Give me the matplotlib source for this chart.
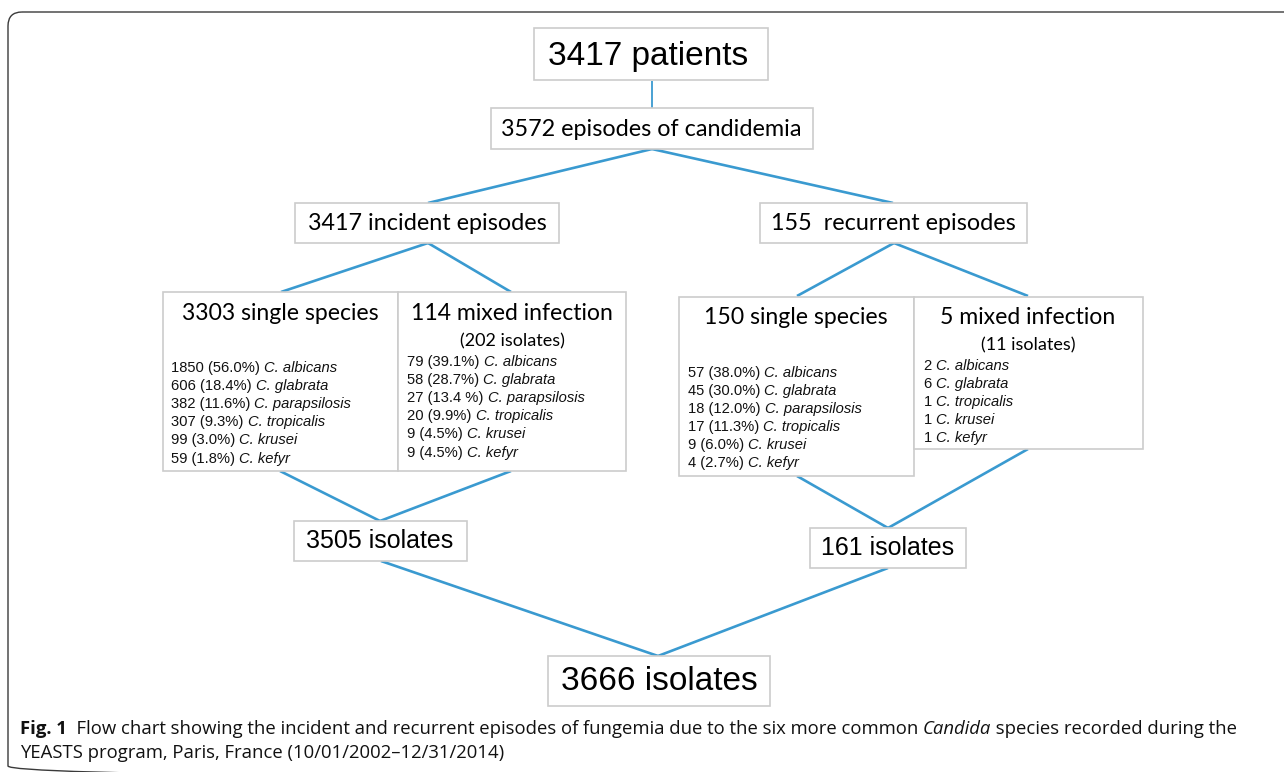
import matplotlib
matplotlib.use('Agg')
import matplotlib.pyplot as plt
from matplotlib.patches import FancyBboxPatch, Rectangle

# ---------------------------------------------------------------------------
# Data
# ---------------------------------------------------------------------------
N_PATIENTS = 3417
N_EPISODES = 3572
N_INCIDENT = 3417
N_RECURRENT = 155
N_INC_SINGLE = 3303
N_INC_MIXED = 114
N_INC_MIXED_ISO = 202
N_REC_SINGLE = 150
N_REC_MIXED = 5
N_REC_MIXED_ISO = 11
N_INC_ISO = 3505
N_REC_ISO = 161
N_TOTAL_ISO = 3666

SPECIES = ['C. albicans', 'C. glabrata', 'C. parapsilosis',
           'C. tropicalis', 'C. krusei', 'C. kefyr']
INC_SINGLE_N = [1850, 606, 382, 307, 99, 59]
INC_SINGLE_PCT = ['56.0%', '18.4%', '11.6%', '9.3%', '3.0%', '1.8%']
INC_MIXED_N = [79, 58, 27, 20, 9, 9]
INC_MIXED_PCT = ['39.1%', '28.7%', '13.4 %', '9.9%', '4.5%', '4.5%']
REC_SINGLE_N = [57, 45, 18, 17, 9, 4]
REC_SINGLE_PCT = ['38.0%', '30.0%', '12.0%', '11.3%', '6.0%', '2.7%']
REC_MIXED_SPECIES = ['C. albicans', 'C. glabrata', 'C. tropicalis',
                     'C. krusei', 'C. kefyr']
REC_MIXED_N = [2, 6, 1, 1, 1]

CAPTION_1 = ('Flow chart showing the incident and recurrent episodes of fungemia '
             'due to the six more common ')
CAPTION_2 = ' species recorded during the'
CAPTION_3 = 'YEASTS program, Paris, France (10/01/2002\u201312/31/2014)'

# ---------------------------------------------------------------------------
# Style
# ---------------------------------------------------------------------------
LINE = '#3a9ad0'
EDGE = '#cccccc'
FRAME = '#3a3a3a'
ARIAL = 'Liberation Sans'
CALI = 'Lato'
CAP = 'Open Sans'

fig = plt.figure(figsize=(12.84, 7.72), dpi=100)
ax = fig.add_axes([0, 0, 1, 1])
ax.set_xlim(0, 1284)
ax.set_ylim(772, 0)
ax.axis('off')
renderer = fig.canvas.get_renderer()


def box(x0, y0, x1, y1):
    ax.add_patch(Rectangle((x0, y0), x1 - x0, y1 - y0, facecolor='white',
                           edgecolor=EDGE, linewidth=1.2, zorder=3))


def link(p, q, lw=1.9):
    ax.plot([p[0], q[0]], [p[1], q[1]], color=LINE, linewidth=lw,
            solid_capstyle='butt', zorder=2)


def run_width(s, **kw):
    # width of a text run in pixels (== data units here), spaces included
    t1 = ax.text(0, 0, '|' + s + '|', **kw)
    t2 = ax.text(0, 0, '||', **kw)
    w = (t1.get_window_extent(renderer).width
         - t2.get_window_extent(renderer).width)
    t1.remove()
    t2.remove()
    return w


def runs(x, y, parts, size, family):
    for s, style, weight in parts:
        kw = dict(fontsize=size, family=family, style=style,
                  fontweight=weight, color='#111111')
        ax.text(x, y, s, ha='left', va='baseline', zorder=5, **kw)
        x += run_width(s, **kw)


# outer frame of the figure panel (runs off the right and bottom edges)
ax.add_patch(FancyBboxPatch((8, 12), 1400, 768,
                            boxstyle='round,pad=0,rounding_size=14',
                            facecolor='none', edgecolor=FRAME,
                            linewidth=1.0, zorder=1))

# ---- connectors ----
link((652, 81), (652, 108), lw=1.3)
link((652, 149), (428, 203))
link((652, 149), (893, 203))
link((428, 243), (281, 292))
link((428, 243), (511, 292))
link((894, 243), (797, 296))
link((894, 243), (1028, 296))
link((280, 471), (380, 521))
link((511, 471), (380, 521))
link((797, 476), (888, 528))
link((1028, 449), (888, 528))
link((381, 561), (658, 656))
link((888, 568), (658, 656))

# ---- boxes ----
box(534, 28, 768, 80)
ax.text(648, 56, f'{N_PATIENTS} patients', ha='center', va='center',
        fontsize=24, family=ARIAL, zorder=5)

box(491, 108, 813, 149)
ax.text(651, 129, f'{N_EPISODES} episodes of candidemia', ha='center',
        va='center', fontsize=16.8, family=CALI, zorder=5)

box(295, 203, 559, 243)
ax.text(427, 223, f'{N_INCIDENT} incident episodes', ha='center',
        va='center', fontsize=16.8, family=CALI, zorder=5)

box(760, 203, 1027, 243)
ax.text(893, 223, f'{N_RECURRENT}  recurrent episodes', ha='center',
        va='center', fontsize=16.8, family=CALI, zorder=5)

box(163, 292, 398, 471)
box(398, 292, 626, 471)
ax.text(280, 313, f'{N_INC_SINGLE} single species', ha='center',
        va='center', fontsize=16.6, family=CALI, zorder=5)
ax.text(512, 313, f'{N_INC_MIXED} mixed infection', ha='center',
        va='center', fontsize=16.6, family=CALI, zorder=5)
ax.text(512, 341, f'({N_INC_MIXED_ISO} isolates)', ha='center',
        va='center', fontsize=13, family=CALI, zorder=5)

box(679, 297, 914, 476)
box(914, 297, 1143, 449)
ax.text(796, 318, f'{N_REC_SINGLE} single species', ha='center',
        va='center', fontsize=16.6, family=CALI, zorder=5)
ax.text(1028, 318, f'{N_REC_MIXED} mixed infection', ha='center',
        va='center', fontsize=16.6, family=CALI, zorder=5)
ax.text(1028, 345, f'({N_REC_MIXED_ISO} isolates)', ha='center',
        va='center', fontsize=13, family=CALI, zorder=5)

SP = 10.6
STEP = 18.1
for i, sp in enumerate(SPECIES):
    runs(171, 372 + i * STEP,
         [(f'{INC_SINGLE_N[i]} ({INC_SINGLE_PCT[i]}) ', 'normal', 'normal'),
          (sp, 'italic', 'normal')], SP, ARIAL)
    runs(407, 366 + i * STEP,
         [(f'{INC_MIXED_N[i]} ({INC_MIXED_PCT[i]}) ', 'normal', 'normal'),
          (sp, 'italic', 'normal')], SP, ARIAL)
    runs(688, 377 + i * STEP,
         [(f'{REC_SINGLE_N[i]} ({REC_SINGLE_PCT[i]}) ', 'normal', 'normal'),
          (sp, 'italic', 'normal')], SP, ARIAL)
for i, sp in enumerate(REC_MIXED_SPECIES):
    runs(924, 370 + i * STEP,
         [(f'{REC_MIXED_N[i]} ', 'normal', 'normal'),
          (sp, 'italic', 'normal')], SP, ARIAL)

box(294, 521, 467, 561)
ax.text(380, 541, f'{N_INC_ISO} isolates', ha='center', va='center',
        fontsize=18, family=ARIAL, zorder=5)

box(810, 528, 966, 568)
ax.text(888, 548, f'{N_REC_ISO} isolates', ha='center', va='center',
        fontsize=18, family=ARIAL, zorder=5)

box(548, 656, 770, 706)
ax.text(659, 682, f'{N_TOTAL_ISO} isolates', ha='center', va='center',
        fontsize=24, family=ARIAL, zorder=5)

# ---- caption ----
CS = 13.3
runs(20, 734, [('Fig. 1', 'normal', 'bold'), ('  ' + CAPTION_1, 'normal', 'normal'),
               ('Candida', 'italic', 'normal'), (CAPTION_2, 'normal', 'normal')],
     CS, CAP)
runs(20, 758, [(CAPTION_3, 'normal', 'normal')], CS, CAP)

fig.savefig('out.png', dpi=100, facecolor='white')
